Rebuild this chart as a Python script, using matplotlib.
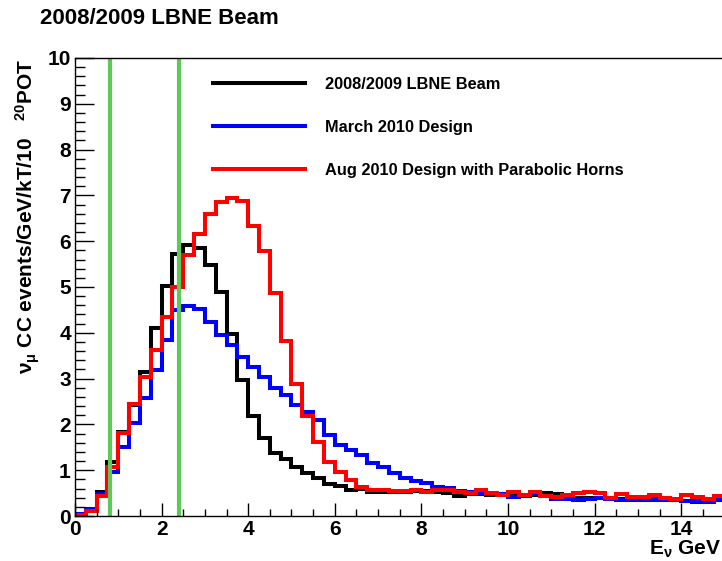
import numpy as np
import matplotlib.pyplot as plt
from matplotlib.ticker import MultipleLocator

plt.rcParams['font.family'] = ['Liberation Sans', 'DejaVu Sans']
plt.rcParams['font.weight'] = 'bold'
plt.rcParams['mathtext.fontset'] = 'custom'
plt.rcParams['mathtext.rm'] = 'Liberation Sans:bold'
plt.rcParams['mathtext.it'] = 'Liberation Sans'
plt.rcParams['mathtext.bf'] = 'Liberation Sans:bold'

# 0.25 GeV bins from 0 to 15 GeV
edges = np.arange(0, 15.01, 0.25)

beam_2008 = [0.05, 0.15, 0.52, 1.17, 1.84, 2.42, 3.15, 4.10, 5.02, 5.72,
             5.92, 5.86, 5.48, 4.90, 3.98, 2.98, 2.18, 1.70, 1.37, 1.24,
             1.08, 0.93, 0.82, 0.70, 0.66, 0.57, 0.58, 0.53, 0.52, 0.52,
             0.53, 0.55, 0.55, 0.52, 0.50, 0.44, 0.47, 0.48, 0.46, 0.45,
             0.43, 0.44, 0.45, 0.50, 0.48, 0.42, 0.40, 0.40, 0.40, 0.39,
             0.38, 0.35, 0.36, 0.38, 0.36, 0.36, 0.32, 0.31, 0.35, 0.34]

march_2010 = [0.04, 0.15, 0.48, 0.97, 1.51, 2.02, 2.57, 3.19, 3.85, 4.50,
              4.59, 4.52, 4.24, 3.95, 3.73, 3.48, 3.25, 3.03, 2.80, 2.65,
              2.42, 2.28, 2.10, 1.77, 1.55, 1.44, 1.33, 1.15, 1.08, 0.93,
              0.82, 0.77, 0.72, 0.64, 0.62, 0.55, 0.52, 0.50, 0.48, 0.47,
              0.42, 0.45, 0.47, 0.44, 0.38, 0.37, 0.36, 0.38, 0.40, 0.38,
              0.35, 0.37, 0.35, 0.36, 0.34, 0.35, 0.33, 0.32, 0.31, 0.34]

aug_2010 = [0.03, 0.12, 0.44, 1.08, 1.82, 2.45, 3.04, 3.62, 4.35, 5.00,
            5.70, 6.16, 6.59, 6.86, 6.95, 6.88, 6.33, 5.78, 4.86, 3.83,
            2.88, 2.19, 1.62, 1.17, 0.95, 0.78, 0.64, 0.57, 0.56, 0.54,
            0.55, 0.57, 0.53, 0.57, 0.57, 0.53, 0.50, 0.57, 0.51, 0.46,
            0.52, 0.46, 0.53, 0.44, 0.41, 0.46, 0.50, 0.53, 0.50, 0.39,
            0.48, 0.42, 0.41, 0.46, 0.39, 0.37, 0.46, 0.42, 0.37, 0.44]

osc_max = [0.8, 2.4]

labels = ['2008/2009 LBNE Beam', 'March 2010 Design',
          'Aug 2010 Design with Parabolic Horns']

fig = plt.figure(figsize=(7.22, 5.61), dpi=100)
ax = fig.add_axes([75 / 722, 45 / 561, 649.5 / 722, 458 / 561])

for x in osc_max:
    ax.axvline(x, color='#5cc95a', lw=3)

ax.stairs(beam_2008, edges, baseline=None, color='black', lw=2.9, label=labels[0])
ax.stairs(march_2010, edges, baseline=None, color='#0000ff', lw=2.9, label=labels[1])
ax.stairs(aug_2010, edges, baseline=None, color='#ff0000', lw=2.9, label=labels[2])

ax.set_xlim(0, 15)
ax.set_ylim(0, 10)
ax.xaxis.set_major_locator(MultipleLocator(2))
ax.xaxis.set_minor_locator(MultipleLocator(0.5))
ax.yaxis.set_major_locator(MultipleLocator(1))
ax.yaxis.set_minor_locator(MultipleLocator(0.2))
ax.tick_params(axis='x', which='major', direction='in', length=9.5, width=1,
               labelsize=15, pad=3)
ax.tick_params(axis='x', which='minor', direction='in', length=5, width=1)
ax.tick_params(axis='y', which='major', direction='in', length=14, width=1,
               labelsize=15, pad=3)
ax.tick_params(axis='y', which='minor', direction='in', length=7, width=1)
ax.spines['right'].set_visible(False)
for s in ['left', 'bottom', 'top']:
    ax.spines[s].set_linewidth(1)

ax.legend(loc='upper left', bbox_to_anchor=(213 / 722, 1 - 77 / 561),
          bbox_transform=fig.transFigure, frameon=False, fontsize=11.8,
          handlelength=5.6, handletextpad=1.22, labelspacing=1.7,
          borderpad=0, borderaxespad=0)

fig.text(40 / 722, 1 - 18 / 561, '2008/2009 LBNE Beam', fontsize=16,
         fontweight='bold', va='center', ha='left')
fig.text(28 / 722, 1 - 59 / 561,
         r'$\nu_{\mu}$ CC events/GeV/kT/10   $^{20}$POT',
         rotation=90, fontsize=15, fontweight='bold', ha='center', va='top')
fig.text(721 / 722, 1 - 549 / 561, r'E$_{\nu}$ GeV', fontsize=15,
         fontweight='bold', ha='right', va='center')

fig.savefig('out.png', dpi=100)
